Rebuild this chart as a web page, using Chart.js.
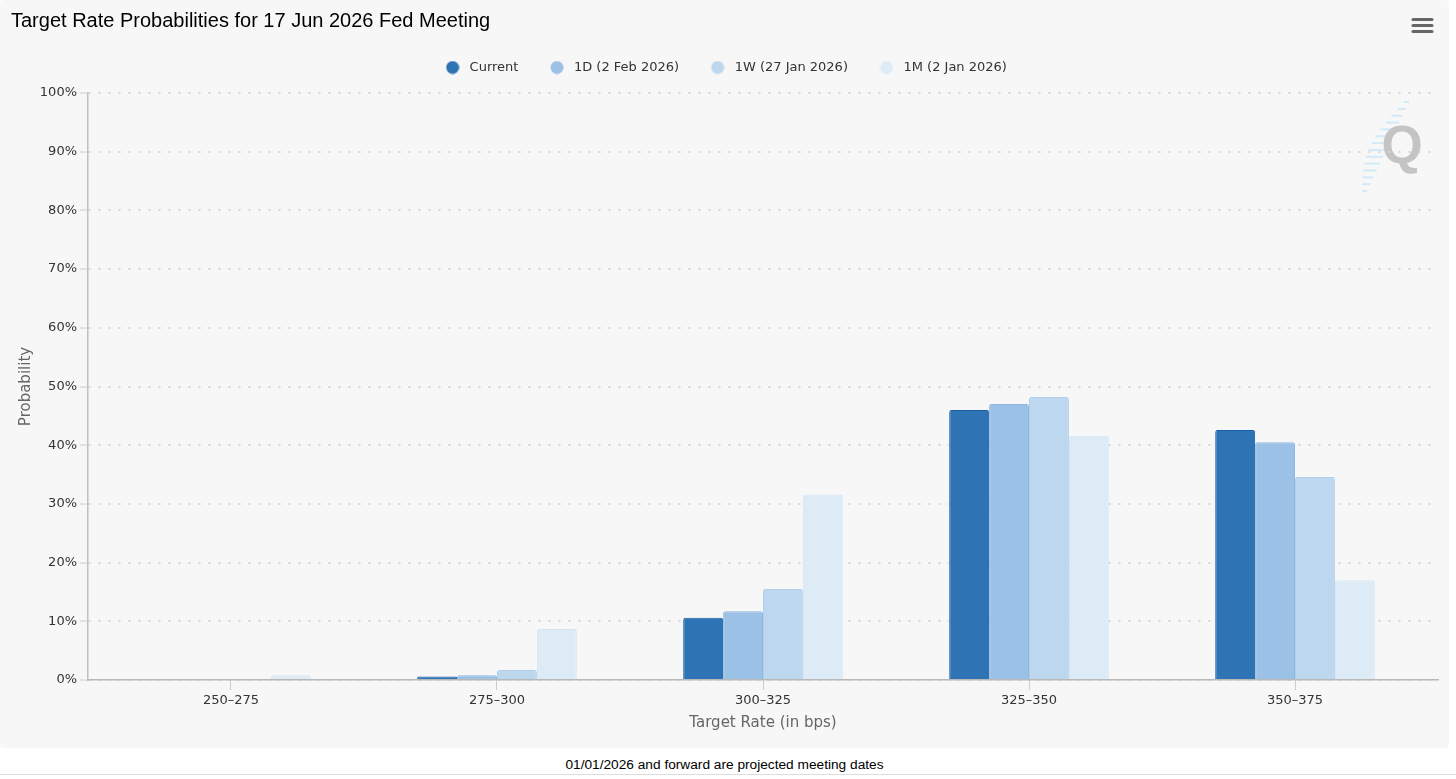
<!DOCTYPE html>
<html>
<head>
<meta charset="utf-8">
<script src="https://cdn.jsdelivr.net/npm/chart.js@4"></script>
<style>
  html, body { margin: 0; padding: 0; background: #ffffff; width: 1456px; height: 779px; overflow: hidden; }
  #wrap { position: absolute; left: 0; top: 0; width: 1449px; height: 748px; background: #f7f7f7; border-radius: 4px; }
  #footer { position: absolute; left: 0; top: 756px; width: 1449px; height: 18px; line-height: 18px; text-align: center;
            font-family: "Liberation Sans", Arial, sans-serif; font-size: 13.7px; color: #000; }
  #rule { position: absolute; left: 0; top: 774px; width: 1456px; height: 1px; background: #dddddd; }
</style>
</head>
<body>
<div id="wrap"><canvas id="c"></canvas></div>
<div id="footer">01/01/2026 and forward are projected meeting dates</div>
<div id="rule"></div>
<script>
const chartTitle = 'Target Rate Probabilities for 17 Jun 2026 Fed Meeting';
const categories = ['250–275', '275–300', '300–325', '325–350', '350–375'];
const seriesNames = ['Current', '1D (2 Feb 2026)', '1W (27 Jan 2026)', '1M (2 Jan 2026)'];
const currentValues = [0, 0.6, 10.6, 46.0, 42.6];
const oneDayValues = [0, 0.8, 11.7, 47.0, 40.5];
const oneWeekValues = [0, 1.7, 15.5, 48.2, 34.6];
const oneMonthValues = [0.8, 8.7, 31.6, 41.6, 17.0];
const yTickValues = [0, 10, 20, 30, 40, 50, 60, 70, 80, 90, 100];

const fills = ['#2e74b5', '#9cc1e6', '#bdd7ee', '#ddebf7'];
const borders = ['#1a5fa6', '#8eb6e0', '#b1cfea', '#d3e5f4'];
const values = [currentValues, oneDayValues, oneWeekValues, oneMonthValues];

// legend circle markers (13px diameter)
const markers = fills.map(col => {
  const cv = document.createElement('canvas');
  cv.width = 14; cv.height = 14;
  const c = cv.getContext('2d');
  c.fillStyle = col;
  c.beginPath();
  c.arc(7, 7, 6.5, 0, Math.PI * 2);
  c.fill();
  return cv;
});

const decorations = {
  id: 'decorations',
  beforeDraw(chart) {
    const ctx = chart.ctx;
    ctx.save();
    ctx.fillStyle = '#d2e9f7';
    const n = 14;
    for (let i = 0; i < n; i++) {
      const t = i / (n - 1);
      const y = 101 + t * 89;
      const xr = 1409 - t * 42;
      const len = 5 + 13 * Math.sin(Math.PI * t);
      ctx.fillRect(xr - len, y, len, 2);
    }
    ctx.fillStyle = '#c4c4c4';
    ctx.font = 'bold 53px "Liberation Sans", Arial, sans-serif';
    ctx.textAlign = 'center';
    ctx.textBaseline = 'alphabetic';
    ctx.fillText('Q', 1402, 163);
    ctx.restore();
  },
  afterDraw(chart) {
    const ctx = chart.ctx;
    ctx.save();
    ctx.strokeStyle = '#666666';
    ctx.lineWidth = 3;
    ctx.lineCap = 'round';
    [19.5, 25.5, 31.5].forEach(y => {
      ctx.beginPath();
      ctx.moveTo(1413, y);
      ctx.lineTo(1432, y);
      ctx.stroke();
    });
    ctx.restore();
  }
};

const legendTweak = {
  id: 'legendTweak',
  beforeInit(chart) {
    const origFit = chart.legend.fit;
    chart.legend.fit = function () {
      origFit.call(this);
      this.height += 9;
    };
  }
};

new Chart(document.getElementById('c'), {
  type: 'bar',
  data: {
    labels: categories,
    datasets: seriesNames.map((name, i) => ({
      label: name,
      data: values[i],
      backgroundColor: fills[i],
      borderColor: borders[i],
      borderWidth: 1,
      borderRadius: { topLeft: 2, topRight: 2, bottomLeft: 0, bottomRight: 0 },
      borderSkipped: 'start',
      categoryPercentage: 0.6,
      barPercentage: 1.0
    }))
  },
  options: {
    responsive: true,
    maintainAspectRatio: false,
    animation: false,
    devicePixelRatio: 1,
    layout: { padding: { left: 11, right: 11, top: 0, bottom: 0 } },
    plugins: {
      title: {
        display: true,
        text: chartTitle,
        align: 'start',
        color: '#000000',
        font: { family: '"Liberation Sans", Arial, sans-serif', size: 20, weight: 'normal' },
        padding: { top: 9, bottom: 0 }
      },
      legend: {
        display: true,
        position: 'top',
        align: 'center',
        labels: {
          usePointStyle: true,
          pointStyleWidth: 21,
          boxWidth: 21,
          boxHeight: 13,
          padding: 28,
          color: '#333333',
          font: { family: '"DejaVu Sans", sans-serif', size: 13 },
          generateLabels(chart) {
            return Chart.defaults.plugins.legend.labels.generateLabels(chart)
              .map((item, i) => Object.assign(item, { pointStyle: markers[i] }));
          }
        }
      },
      tooltip: { enabled: false }
    },
    scales: {
      x: {
        type: 'category',
        offset: true,
        afterBuildTicks(scale) {
          scale._startValue = -0.5375;
          scale._valueRange = 5.075;
        },
        afterFit(scale) { scale.height = 68; },
        grid: {
          display: true,
          drawOnChartArea: false,
          drawTicks: true,
          offset: false,
          tickLength: 10,
          tickColor: '#cccccc',
          tickWidth: 1
        },
        border: { display: true, color: '#b8b8b8', width: 1.5 },
        ticks: {
          color: '#333333',
          padding: 3,
          maxRotation: 0,
          font: { family: '"DejaVu Sans", sans-serif', size: 13 }
        },
        title: {
          display: true,
          text: 'Target Rate (in bps)',
          color: '#666666',
          padding: { top: 0, bottom: 16 },
          font: { family: '"DejaVu Sans", sans-serif', size: 15 }
        }
      },
      y: {
        type: 'linear',
        min: 0,
        max: 100,
        afterFit(scale) { scale.width = 77; },
        afterBuildTicks(scale) {
          scale.ticks = yTickValues.map(v => ({ value: v }));
        },
        grid: {
          display: true,
          drawOnChartArea: true,
          drawTicks: true,
          color: '#d6d6d6',
          lineWidth: 2,
          tickLength: 8,
          tickColor: '#cccccc',
          tickWidth: 1,
          tickBorderDash: []
        },
        border: { display: true, color: '#c0c0c0', width: 1.5, dash: [2, 8] },
        ticks: {
          color: '#333333',
          padding: 3,
          font: { family: '"DejaVu Sans", sans-serif', size: 13 },
          callback: v => v + '%'
        },
        title: {
          display: true,
          text: 'Probability',
          color: '#666666',
          padding: { top: 6, bottom: 0 },
          font: { family: '"DejaVu Sans", sans-serif', size: 15 }
        }
      }
    }
  },
  plugins: [decorations, legendTweak]
});
</script>
</body>
</html>
